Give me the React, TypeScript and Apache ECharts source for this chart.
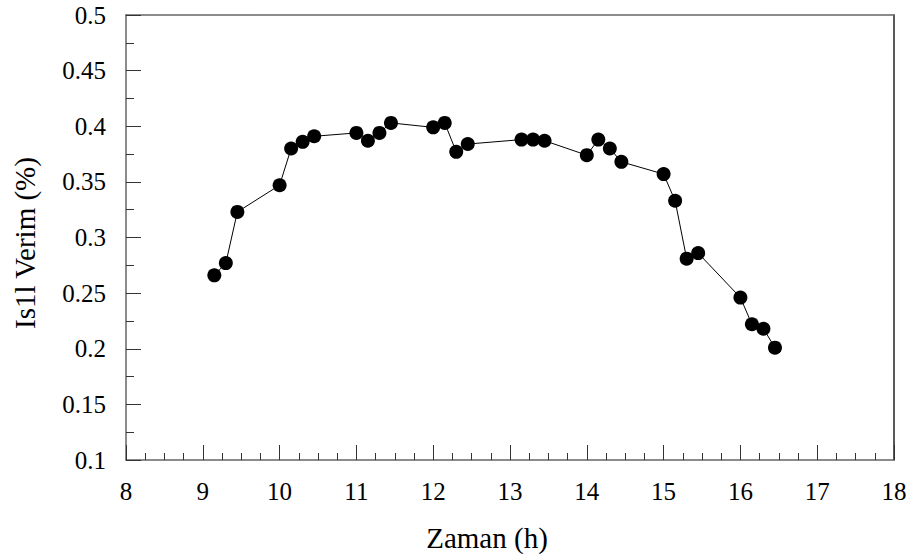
import React, { useEffect, useRef } from "react";
import * as echarts from "echarts";

const timeHours = [
  9.15, 9.3, 9.45, 10, 10.15, 10.3, 10.45, 11, 11.15, 11.3, 11.45, 12, 12.15, 12.3, 12.45,
  13.15, 13.3, 13.45, 14, 14.15, 14.3, 14.45, 15, 15.15, 15.3, 15.45, 16, 16.15, 16.3, 16.45,
];
const efficiency = [
  0.266, 0.277, 0.323, 0.347, 0.380, 0.386, 0.391, 0.394, 0.387, 0.394, 0.403, 0.399, 0.403,
  0.377, 0.384, 0.388, 0.388, 0.387, 0.374, 0.388, 0.380, 0.368, 0.357, 0.333, 0.281, 0.286,
  0.246, 0.222, 0.218, 0.201,
];
const xTitle = "Zaman (h)";
const yTitle = "Is1l Verim (%)";

const FONT = "'Liberation Serif', 'Times New Roman', serif";

export default function App() {
  const ref = useRef<HTMLDivElement>(null);
  useEffect(() => {
    if (!ref.current) return;
    const chart = echarts.init(ref.current, undefined, { renderer: "svg" });
    const data = timeHours.map((t, i) => [t, efficiency[i]]);
    const axisColor = "#666";
    chart.setOption({
      animation: false,
      backgroundColor: "#fff",
      grid: { left: 126, right: 17, top: 15, bottom: 94 },
      xAxis: [
        {
          type: "value",
          min: 8,
          max: 18,
          interval: 1,
          axisLine: { show: true, lineStyle: { color: axisColor, width: 1.5 } },
          axisTick: { show: true, inside: true, length: 15, lineStyle: { color: "#333", width: 1 } },
          minorTick: { show: true, splitNumber: 4, length: 7, lineStyle: { color: "#333", width: 1 } },
          splitLine: { show: false },
          axisLabel: { color: "#000", fontSize: 25, fontFamily: FONT, margin: 19 },
        },
        {
          type: "value",
          position: "top",
          min: 8,
          max: 18,
          axisLine: { show: true, onZero: false, lineStyle: { color: axisColor, width: 1.5 } },
          axisTick: { show: false },
          axisLabel: { show: false },
          splitLine: { show: false },
        },
      ],
      yAxis: [
        {
          type: "value",
          min: 0.1,
          max: 0.5,
          interval: 0.05,
          axisLine: { show: true, lineStyle: { color: axisColor, width: 1.5 } },
          axisTick: { show: true, inside: true, length: 15, lineStyle: { color: "#333", width: 1 } },
          minorTick: { show: true, splitNumber: 2, length: 8, lineStyle: { color: "#333", width: 1 } },
          splitLine: { show: false },
          axisLabel: {
            color: "#000",
            fontSize: 25,
            fontFamily: FONT,
            margin: 20,
            formatter: (v: number) => String(+v.toFixed(2)),
          },
        },
        {
          type: "value",
          position: "right",
          min: 0.1,
          max: 0.5,
          axisLine: { show: true, onZero: false, lineStyle: { color: "#222", width: 1.5 } },
          axisTick: { show: false },
          axisLabel: { show: false },
          splitLine: { show: false },
        },
      ],
      graphic: [
        {
          type: "text",
          x: 487,
          y: 538,
          style: {
            text: xTitle,
            font: `29px ${FONT}`,
            fill: "#000",
            align: "center",
            verticalAlign: "middle",
          },
        },
        {
          type: "text",
          x: 25,
          y: 243,
          rotation: Math.PI / 2,
          style: {
            text: yTitle,
            font: `29px ${FONT}`,
            fill: "#000",
            align: "center",
            verticalAlign: "middle",
          },
        },
      ],
      series: [
        {
          type: "line",
          data,
          xAxisIndex: 0,
          yAxisIndex: 0,
          symbol: "circle",
          symbolSize: 14,
          itemStyle: { color: "#000" },
          lineStyle: { color: "#000", width: 1 },
        },
      ],
    });
    return () => chart.dispose();
  }, []);
  return <div ref={ref} style={{ width: 911, height: 554, position: "absolute", left: 0, top: 0 }} />;
}
